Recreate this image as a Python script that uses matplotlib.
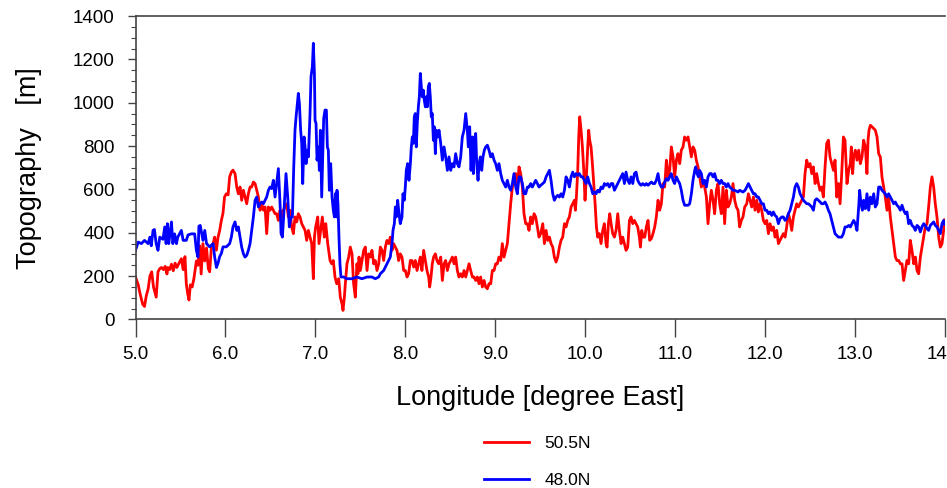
import matplotlib
matplotlib.use("Agg")
import matplotlib.pyplot as plt
from matplotlib.ticker import MultipleLocator

plt.rcParams['font.family'] = ['Liberation Sans', 'DejaVu Sans']

# ---- 50.5N (red) ----
lon_505 = [5.00,5.03,5.05,5.08,5.10,5.12,5.14,5.16,5.18,5.20,5.23,5.25,5.27,5.29,5.31,5.33,5.35,5.36,5.38,5.40,
           5.42,5.44,5.46,5.49,5.51,5.53,5.55,5.565,5.58,5.595,5.61,5.63,5.65,5.677,5.695,5.714,5.73,5.75,5.77,5.79,
           5.81,5.825,5.845,5.863,5.88,5.90,5.918,5.936,5.955,5.973,5.99,6.01,6.03,6.047,6.066,6.084,
           6.107,6.126,6.144,6.163,6.181,6.20,6.218,6.237,6.255,6.274,6.292,6.311,6.33,6.348,6.367,6.385,6.404,6.422,
           6.441,6.459,6.478,6.496,6.515,6.533,6.552,6.57,6.589,6.608,6.626,6.645,6.663,6.682,6.70,6.719,6.737,6.756,
           6.774,6.793,6.811,6.83,6.849,6.867,6.886,6.904,6.923,6.941,6.96,6.978,6.99,7.004,7.027,7.041,7.064,7.078,
           7.10,7.116,7.138,7.164,7.182,7.20,7.219,7.238,
           7.26,7.278,7.297,7.308,7.323,7.334,7.352,7.371,7.389,7.408,7.426,7.445,7.463,7.474,7.486,7.501,7.519,7.538,
           7.556,7.575,7.593,7.612,7.63,7.649,7.667,7.686,7.705,7.723,7.742,7.76,7.779,7.797,7.816,7.834,7.853,7.871,
           7.89,7.908,7.927,7.945,7.964,7.983,8.001,8.02,8.038,8.057,8.075,8.094,8.112,8.131,8.149,8.168,8.186,8.205,
           8.224,8.242,8.261,8.272,8.287,8.301,8.316,8.335,8.353,8.372,
           8.395,8.413,8.432,8.45,8.469,8.487,8.506,8.524,8.543,8.561,8.58,8.598,8.617,8.635,8.654,8.673,8.691,8.71,
           8.728,8.747,8.765,8.784,8.802,8.821,8.839,8.858,8.877,8.895,8.914,8.932,8.951,8.969,8.988,9.006,9.025,9.043,
           9.062,9.08,9.099,9.118,9.136,9.155,9.173,9.192,9.21,9.229,9.247,9.266,9.284,9.303,9.321,9.34,9.359,9.377,
           9.396,9.414,9.433,9.451,9.47,9.488,9.507,
           9.53,9.548,9.567,9.585,9.604,9.622,9.641,9.659,9.678,9.696,9.715,9.733,9.752,9.771,9.789,9.808,9.826,9.845,
           9.863,9.882,9.893,9.904,9.919,9.93,9.941,9.956,9.971,9.986,10.0,10.015,10.03,10.041,10.052,10.067,10.082,
           10.097,10.112,10.127,10.141,10.16,10.178,10.197,10.215,10.234,10.245,10.26,10.275,10.29,10.308,10.327,10.345,
           10.364,10.382,10.401,10.419,10.438,10.456,10.475,10.494,10.512,10.531,10.549,10.568,10.586,10.605,10.616,
           10.631,10.646,
           10.664,10.682,10.701,10.719,10.738,10.756,10.775,10.793,10.812,10.83,10.849,10.867,10.886,10.905,10.923,
           10.942,10.96,10.979,10.997,11.016,11.034,11.053,11.071,11.09,11.108,11.127,11.146,11.164,11.183,11.201,
           11.22,11.238,11.257,11.275,11.294,11.312,11.331,11.35,11.368,11.387,11.405,11.424,11.442,11.461,11.479,
           11.498,11.516,11.535,11.553,11.572,11.59,11.609,11.628,11.646,11.665,11.683,11.702,11.72,11.739,11.757,11.776,
           11.799,11.817,11.836,11.854,11.873,11.891,11.91,11.928,11.947,11.965,11.984,12.002,12.021,12.04,12.058,
           12.077,12.095,12.114,12.132,12.151,12.169,12.188,12.206,12.225,12.243,12.262,12.281,12.299,12.318,12.336,
           12.355,12.373,12.392,12.41,12.429,12.447,12.466,12.484,12.503,12.522,12.54,12.559,12.577,12.596,12.614,
           12.633,12.651,12.67,12.688,12.707,12.725,12.744,12.763,12.781,12.8,12.818,12.837,12.855,12.874,12.892,
           12.914,12.933,12.951,12.962,12.977,12.988,13.007,13.025,13.044,13.062,13.081,13.099,13.118,13.136,13.148,
           13.159,13.174,13.192,13.211,13.229,13.248,13.266,13.285,13.303,13.322,13.34,13.359,13.377,13.396,13.415,
           13.433,13.452,13.47,13.489,13.507,13.526,13.544,13.563,13.581,13.6,13.618,13.637,13.656,13.674,13.693,
           13.711,13.73,13.748,13.767,13.785,13.804,13.822,13.841,13.859,13.878,13.896,13.915,13.934,13.952,13.971,
           13.989,14.0]
topo_505 = [196,160,120,70,60,110,140,200,220,150,103,220,235,240,230,245,210,240,230,255,
            225,260,240,265,280,230,290,165,120,90,160,150,190,270,250,340,210,350,270,330,
            234,220,340,350,380,320,380,410,457,490,565,580,575,658,680,689,
            673,611,580,611,550,596,565,534,580,611,611,634,627,596,565,504,534,504,
            519,396,519,504,519,504,488,488,457,504,473,504,519,534,473,504,427,396,
            473,450,488,473,442,427,411,365,411,380,350,188,380,427,473,350,427,473,
            380,442,350,272,257,272,196,165,
            188,103,72,42,103,165,257,288,334,303,165,103,257,211,288,226,272,319,
            334,226,303,288,319,257,272,226,257,334,319,272,334,365,350,380,319,350,
            334,319,272,303,288,226,226,196,211,272,272,242,272,226,257,288,226,319,
            272,226,196,150,196,257,288,303,272,257,
            288,180,257,272,226,257,272,288,257,288,226,196,211,196,226,196,226,257,
            226,196,196,180,196,165,196,150,180,150,142,165,165,226,226,257,257,288,
            272,350,288,319,350,442,534,611,658,673,611,704,673,611,488,442,442,411,
            473,442,488,473,427,380,396,
            442,350,411,365,380,350,334,288,265,288,334,365,380,442,427,457,473,519,
            534,550,504,565,688,842,935,873,796,688,550,658,796,873,827,796,719,
            627,534,427,380,396,350,411,442,350,334,442,488,442,396,380,411,
            488,411,350,380,350,319,334,457,473,442,457,442,427,380,334,
            411,380,
            380,427,457,365,373,396,427,473,550,504,534,627,611,735,658,
            688,796,750,658,735,765,719,781,796,842,827,842,796,750,796,
            781,735,704,658,611,642,611,565,442,534,596,550,488,596,627,
            534,488,611,442,596,519,534,565,627,550,519,504,427,457,473,519,
            534,580,550,519,565,504,550,496,534,504,457,442,457,396,442,
            411,427,380,411,350,365,380,396,380,427,488,457,411,473,504,
            534,519,534,550,565,673,735,704,719,673,704,627,673,627,596,
            611,565,704,812,827,750,719,688,735,565,627,534,673,842,827,
            627,688,719,796,673,750,781,735,781,719,750,827,796,673,827,
            873,896,889,881,873,842,765,750,658,611,565,504,565,473,411,
            350,288,272,272,257,257,180,226,272,257,365,319,257,288,226,
            211,288,334,380,427,442,519,611,658,611,534,473,380,334,350,
            411,460]

# ---- 48.0N (blue) ----
lon_480 = [5.00,5.03,5.065,5.10,5.14,5.16,5.175,5.195,5.21,5.23,5.25,5.27,5.305,5.325,5.34,5.355,5.37,5.40,5.415,5.435,
           5.455,5.47,5.51,5.53,5.565,5.584,5.62,5.658,5.677,5.695,5.705,5.72,5.75,5.77,5.79,5.825,5.863,5.88,5.90,5.918,
           5.936,5.955,5.973,6.01,6.047,6.066,6.084,
           6.107,6.126,6.144,6.163,6.181,6.20,6.218,6.237,6.255,6.274,6.292,6.311,6.33,6.348,6.367,6.385,6.404,6.422,
           6.441,6.459,6.478,6.496,6.515,6.533,6.552,6.57,6.589,6.608,6.619,6.634,6.656,6.674,6.693,6.711,6.73,6.745,
           6.76,6.774,6.786,6.797,6.811,6.823,6.837,6.849,6.86,6.875,6.886,6.897,6.912,6.923,6.941,6.952,6.967,6.978,
           6.99,6.997,7.008,7.019,7.034,7.045,7.056,7.071,7.082,7.093,7.108,7.123,7.134,7.145,7.156,7.171,7.186,7.2,
           7.212,7.223,7.238,
           7.241,7.252,7.263,7.274,7.285,7.315,7.352,7.408,7.463,7.519,7.575,7.63,7.667,7.705,7.723,7.76,7.797,7.834,
           7.853,7.864,7.879,7.89,7.901,7.916,7.931,7.945,7.964,7.975,7.99,8.001,8.012,8.027,8.042,8.057,8.068,8.079,
           8.09,8.101,8.112,8.123,8.134,8.146,8.157,8.168,8.179,8.19,8.201,8.212,8.224,8.235,8.246,8.257,8.268,8.279,
           8.29,8.301,8.313,8.324,8.335,8.346,8.361,
           8.376,8.395,8.413,8.432,8.45,8.469,8.487,8.506,8.524,8.543,8.561,8.58,8.598,8.617,8.635,8.654,8.673,8.691,
           8.702,8.717,8.732,8.747,8.758,8.769,8.784,8.795,8.81,8.821,8.836,8.851,8.865,8.88,8.895,8.914,8.932,8.951,
           8.969,8.988,9.006,9.025,9.043,9.062,9.08,9.099,9.118,9.136,9.155,9.173,9.192,9.21,9.229,9.247,9.266,9.284,
           9.303,9.321,9.34,9.359,9.377,9.396,9.414,9.433,9.451,9.47,9.488,9.507,
           9.53,9.548,9.567,9.585,9.604,9.622,9.641,9.659,9.678,9.696,9.715,9.733,9.752,9.771,9.789,9.808,9.826,9.845,
           9.863,9.882,9.9,9.919,9.937,9.956,9.974,9.993,10.012,10.03,10.049,10.067,10.086,10.104,10.123,10.141,10.16,
           10.178,10.197,10.215,10.234,10.252,10.271,10.29,10.308,10.327,10.345,10.364,10.382,10.401,10.419,10.438,
           10.456,10.475,10.494,10.512,10.531,10.549,10.568,10.586,10.605,10.623,10.642,
           10.664,10.682,10.701,10.719,10.738,10.756,10.775,10.793,10.812,10.83,10.849,10.867,10.886,10.905,10.923,
           10.942,10.96,10.979,10.997,11.016,11.034,11.053,11.071,11.09,11.108,11.146,11.164,11.183,11.201,11.22,
           11.231,11.246,11.261,11.275,11.294,11.312,11.331,11.35,11.368,11.387,11.405,11.424,11.442,11.461,11.479,
           11.498,11.516,11.535,11.553,11.572,11.59,11.609,11.628,11.646,11.665,11.702,11.72,11.757,
           11.78,11.799,11.817,11.836,11.854,11.873,11.891,11.91,11.928,11.947,11.965,11.984,12.002,12.021,12.04,
           12.058,12.077,12.095,12.114,12.132,12.151,12.169,12.188,12.206,12.225,12.243,12.262,12.281,12.299,12.318,
           12.336,12.355,12.373,12.392,12.41,12.429,12.447,12.466,12.484,12.503,12.522,12.54,12.559,12.577,12.596,
           12.614,12.633,12.651,12.67,12.688,12.707,12.725,12.744,12.763,12.781,12.8,12.818,12.855,12.874,12.892,
           12.914,12.933,12.951,12.97,12.988,13.007,13.025,13.044,13.055,13.07,13.085,13.099,13.118,13.136,13.155,
           13.174,13.192,13.211,13.229,13.248,13.266,13.285,13.303,13.322,13.34,13.359,13.377,13.396,13.415,13.433,
           13.452,13.47,13.489,13.507,13.526,13.544,13.563,13.581,13.6,13.618,13.637,13.656,13.674,13.693,13.711,
           13.73,13.748,13.767,13.785,13.804,13.822,13.841,13.859,13.878,13.896,13.915,13.934,13.952,13.971,13.989,14.0]
topo_480 = [319,357,350,365,350,380,340,411,415,350,319,380,370,427,350,442,350,450,350,395,
            350,380,411,365,365,390,395,395,319,288,430,434,365,411,350,335,350,290,240,260,
            290,305,335,335,350,380,427,
            450,411,427,380,334,303,288,296,319,350,411,473,550,565,519,534,542,534,
            550,565,596,611,604,642,565,627,696,534,396,380,534,673,565,427,473,473,
            704,873,935,981,1043,996,873,812,627,842,796,719,781,750,950,1120,1166,1274,
            1135,919,904,735,796,688,873,565,750,927,966,966,796,781,596,719,565,504,
            473,580,473,
            596,534,380,257,196,196,188,188,196,188,196,196,188,196,211,226,257,288,
            350,411,442,519,473,550,488,442,473,580,550,611,688,719,642,719,796,842,
            812,935,950,796,904,981,1027,1135,1074,1027,1058,1012,981,1027,981,1074,1089,1027,
            935,950,827,889,765,873,842,
            873,812,735,796,750,688,750,688,719,704,765,719,704,750,842,873,950,873,
            796,889,688,842,673,827,858,719,642,719,750,688,750,781,796,804,781,750,
            765,735,719,688,719,673,642,627,611,642,611,596,627,673,611,580,658,658,
            627,580,580,611,611,627,611,627,642,627,611,619,
            627,634,658,673,688,642,580,550,565,573,565,580,565,596,658,642,611,658,
            680,658,673,665,673,658,658,642,627,658,627,611,580,588,580,596,588,
            611,604,627,619,627,611,627,627,596,611,627,642,658,673,627,
            680,642,627,658,627,673,680,642,627,619,627,
            619,627,619,627,634,627,627,642,673,627,611,611,634,650,642,
            658,673,642,627,658,642,627,596,550,527,527,534,580,642,688,
            704,673,658,688,673,627,642,611,658,673,673,658,673,642,642,
            627,642,627,627,611,627,611,604,596,596,588,596,588,
            596,611,627,611,596,580,580,565,565,550,534,534,504,504,488,
            496,480,496,480,473,442,465,473,473,457,465,488,504,534,565,
            611,627,611,580,565,550,542,534,534,527,519,504,550,557,550,
            542,534,534,542,527,504,488,457,427,396,388,380,380,396,427,
            427,434,427,442,457,442,411,519,596,534,504,550,511,580,504,
            565,534,580,519,534,611,611,596,588,580,565,580,565,550,534,
            542,527,519,504,527,504,488,496,442,457,434,427,411,434,427,
            404,427,442,434,419,411,434,442,450,434,427,411,396,442,457,440]

fig = plt.figure(figsize=(9.47, 4.88), dpi=100)
ax = fig.add_axes([0.1431, 0.3453, 0.8544, 0.6219])

ax.plot(lon_505, topo_505, color='#ff0000', lw=2.0, label='50.5N')
ax.plot(lon_480, topo_480, color='#0000ff', lw=2.0, label='48.0N')

ax.set_xlim(5, 14)
ax.set_ylim(0, 1400)
ax.xaxis.set_major_locator(MultipleLocator(1.0))
ax.xaxis.set_major_formatter(plt.FuncFormatter(lambda v, p: f"{v:.1f}"))
ax.yaxis.set_major_locator(MultipleLocator(200))
ax.yaxis.set_minor_locator(MultipleLocator(50))

ax.tick_params(axis='x', which='major', direction='out', length=13, width=1.0,
               labelsize=13.5, pad=6, color='#444444')
ax.tick_params(axis='y', which='major', direction='out', length=6, width=1.0,
               labelsize=13.5, pad=9, color='#444444')
ax.tick_params(axis='y', which='minor', direction='out', length=3.5, width=0.8, color='#444444')
for s in ['left', 'bottom', 'top']:
    ax.spines[s].set_color('#444444')
    ax.spines[s].set_linewidth(1.2)
ax.spines['right'].set_visible(False)

ax.set_xlabel('Longitude [degree East]', fontsize=19.5, labelpad=16)
ax.set_ylabel('Topography   [m]', fontsize=19.5, labelpad=22)

leg = ax.legend(loc='upper left', bbox_to_anchor=(0.511, 0.107),
                bbox_transform=fig.transFigure, frameon=False, fontsize=12.5,
                handlelength=2.6, handletextpad=0.9, labelspacing=1.25, borderpad=0,
                borderaxespad=0)

fig.savefig('out.png', dpi=100)
